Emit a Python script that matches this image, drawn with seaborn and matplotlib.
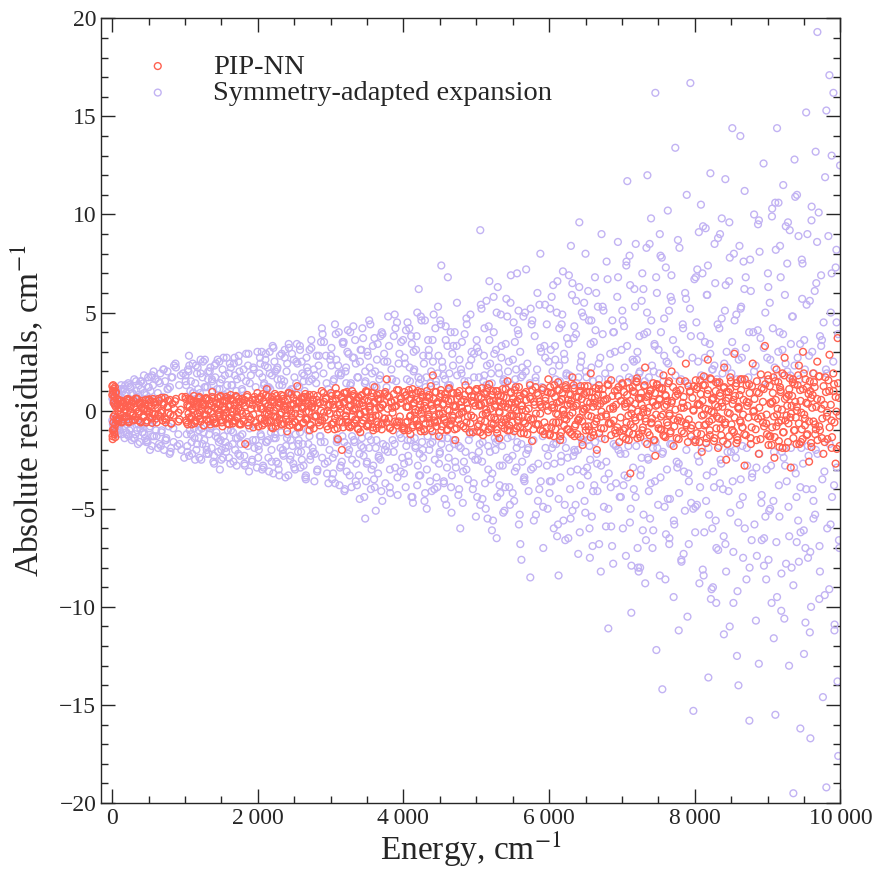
import pandas as pd
import seaborn as sns
import matplotlib.pyplot as plt
from matplotlib.ticker import MultipleLocator, FuncFormatter

# --- scattered / outlying points in 1000 cm-1 slices ---
# PIP-NN residuals (cm-1)
pip_e_0k = [3, 8, 14, 19, 25, 31, 37, 44, 52, 61, 72, 86, 104, 125, 148, 172, 199, 228, 259, 291, 324, 358, 393, 430, 468, 507, 548, 590, 633, 677, 722, 768, 815, 863, 912, 961]
pip_r_0k = [1.25, -1.45, 0.85, -0.95, 1.1, -1.2, 0.3, -0.7, 0.95, -0.35, 0.6, -0.55, 0.15, 0.5, -0.45, 0.05, 0.55, -0.6, 0.25, -0.15, 0.62, -0.5, 0.35, -0.3, 0.1, 0.58, -0.62, 0.4, -0.2, 0.65, -0.4, 0.2, -0.66, 0.48, -0.1, 0.7]
pip_e_1k = [1010, 1038, 1065, 1093, 1122, 1150, 1178, 1206, 1235, 1262, 1290, 1318, 1347, 1375, 1402, 1431, 1459, 1487, 1515, 1544, 1572, 1600, 1628, 1656, 1685, 1713, 1741, 1769, 1797, 1827, 1854, 1882, 1911, 1939, 1967, 1995]
pip_r_1k = [0.6, -0.7, 0.2, -0.3, 0.75, -0.55, 0.45, -0.1, 0.3, -0.75, 0.65, 0.05, -0.45, 0.95, -0.6, 0.35, -0.2, 0.7, -0.8, 0.15, 0.5, -0.4, 0.8, -0.65, 0.25, -0.05, 0.6, -0.7, 0.4, -1.7, 0.7, -0.3, 0.1, -0.85, 0.55, 0.9]
pip_e_2k = [2012, 2040, 2068, 2095, 2123, 2151, 2179, 2207, 2235, 2263, 2291, 2319, 2347, 2375, 2403, 2431, 2459, 2487, 2515, 2543, 2571, 2599, 2627, 2655, 2683, 2711, 2739, 2767, 2795, 2823, 2851, 2879, 2907, 2935, 2963, 2991]
pip_r_2k = [-0.8, 0.7, 0.1, -0.5, 1.1, -0.2, 0.45, -0.9, 0.85, -0.35, 0.25, -0.7, 0.6, 0.05, -1.05, 0.9, -0.15, 0.35, -0.6, 1.25, -0.85, 0.2, 0.7, -0.45, 0.55, -1.0, 0.15, 0.8, -0.3, 0.4, -0.75, 1.0, -0.1, 0.65, -0.95, 0.3]
pip_e_3k = [3015, 3043, 3071, 3099, 3127, 3155, 3183, 3211, 3239, 3267, 3295, 3323, 3351, 3379, 3407, 3435, 3463, 3491, 3519, 3547, 3575, 3603, 3631, 3659, 3687, 3715, 3743, 3771, 3799, 3827, 3855, 3883, 3911, 3939, 3967, 3995]
pip_r_3k = [0.75, -0.6, 1.15, -1.45, 0.3, -2.0, 0.9, -0.25, 0.55, -0.85, 1.0, 0.1, -0.5, 0.7, -1.1, 0.4, -0.05, 0.95, -0.7, 0.25, -0.35, 1.2, -0.9, 0.6, 0.15, -0.65, 0.85, 1.6, -0.4, 0.45, -1.0, 0.2, 1.05, -0.55, 0.65, -0.8]
pip_e_4k = [4012, 4040, 4068, 4096, 4124, 4152, 4180, 4208, 4236, 4264, 4292, 4320, 4348, 4376, 4404, 4432, 4460, 4488, 4516, 4544, 4572, 4600, 4628, 4656, 4684, 4712, 4740, 4768, 4796, 4824, 4852, 4880, 4908, 4936, 4964, 4992]
pip_r_4k = [-0.9, 0.8, 0.2, -1.2, 1.1, -0.4, 0.55, -0.75, 0.95, 0.05, -1.05, 0.7, -0.3, 1.25, 1.8, -0.6, 0.35, -1.3, 0.85, -0.15, 0.6, -0.95, 1.15, -0.5, 0.25, -1.5, 0.9, -0.2, 0.45, -0.8, 1.3, 0.1, -1.1, 0.75, -0.35, 1.0]
pip_e_5k = [5010, 5038, 5066, 5094, 5122, 5150, 5178, 5206, 5234, 5262, 5290, 5318, 5346, 5374, 5402, 5430, 5458, 5486, 5514, 5542, 5570, 5598, 5626, 5654, 5682, 5710, 5738, 5766, 5794, 5822, 5850, 5878, 5906, 5934, 5962, 5990]
pip_r_5k = [1.1, -0.7, 0.3, -1.25, 0.85, -0.1, 1.35, -0.9, 0.5, -0.45, 1.0, -1.4, 0.2, 0.7, -0.6, 1.5, -1.0, 0.4, -0.25, 1.2, -0.8, 0.6, 0.05, -1.15, 0.95, -0.35, 1.3, -1.55, 0.45, -0.7, 0.8, -0.15, 1.05, -1.2, 0.25, 1.6]
pip_e_6k = [6012, 6040, 6068, 6096, 6124, 6152, 6180, 6208, 6236, 6264, 6292, 6320, 6348, 6376, 6404, 6432, 6460, 6488, 6516, 6544, 6572, 6600, 6628, 6656, 6684, 6712, 6740, 6768, 6796, 6824, 6852, 6880, 6908, 6936, 6964, 6992]
pip_r_6k = [-1.2, 0.9, 0.15, -0.6, 1.45, -1.5, 0.55, -0.2, 1.1, -0.95, 0.35, 1.7, -1.3, 0.7, -0.45, 1.25, -1.75, 0.05, 0.95, -0.8, 1.9, -1.1, 0.4, -2.0, 1.3, -0.3, 0.8, -1.45, 0.6, -0.65, 1.55, 0.2, -1.0, 1.05, -1.6, 0.5]
pip_e_7k = [7010, 7038, 7066, 7094, 7115, 7150, 7178, 7206, 7234, 7262, 7290, 7318, 7346, 7374, 7402, 7430, 7458, 7486, 7514, 7542, 7570, 7598, 7626, 7654, 7682, 7710, 7738, 7766, 7794, 7822, 7850, 7878, 7906, 7934, 7962, 7990]
pip_r_7k = [1.35, -0.9, 0.4, -1.5, -3.2, 1.0, -0.35, 1.65, -1.2, 0.65, -0.1, 2.2, -1.7, 0.85, -0.6, 1.4, -2.3, 0.3, 1.15, -0.95, 1.8, -1.35, 0.5, -0.25, 2.0, -1.8, 0.75, -0.5, 1.5, -1.05, 0.15, 2.4, -1.6, 0.95, -0.75, 1.25]
pip_e_8k = [8012, 8040, 8068, 8096, 8124, 8152, 8180, 8208, 8236, 8264, 8292, 8320, 8348, 8376, 8404, 8432, 8460, 8488, 8516, 8544, 8572, 8600, 8628, 8656, 8684, 8712, 8740, 8768, 8796, 8824, 8852, 8880, 8908, 8936, 8964, 8992]
pip_r_8k = [-1.5, 1.2, 0.3, -2.1, 1.75, -0.7, 2.6, -1.25, 0.55, -0.1, 1.45, -1.9, 0.9, -0.45, 2.2, -2.5, 0.65, 1.1, -1.0, 2.9, -1.65, 0.2, 1.6, -0.85, -2.8, 1.3, 0.4, -1.4, 2.4, -0.3, 0.95, -2.2, 1.85, -0.6, 3.3, -1.2]
pip_e_9k = [9010, 9038, 9066, 9094, 9122, 9150, 9178, 9206, 9234, 9262, 9290, 9318, 9346, 9374, 9402, 9430, 9458, 9486, 9514, 9542, 9570, 9598, 9626, 9654, 9682, 9710, 9738, 9766, 9794, 9822, 9850, 9878, 9906, 9934, 9962, 9990]
pip_r_9k = [1.6, -1.3, 0.45, -2.4, 2.1, -0.6, 1.05, -1.9, 2.7, -0.25, 0.8, -2.9, 1.45, -1.0, 0.2, 2.3, -1.6, 3.0, -0.4, 1.2, -2.6, 0.65, 1.9, -1.2, 2.5, -0.8, 0.1, -2.2, 1.7, -1.45, 2.85, -0.5, 1.0, -2.7, 3.7, -1.8]

# Symmetry-adapted expansion residuals (cm-1)
sym_e_0k = [20, 45, 70, 95, 120, 150, 175, 200, 230, 255, 280, 310, 335, 360, 390, 415, 440, 470, 495, 520, 550, 575, 600, 630, 655, 680, 710, 735, 760, 790, 815, 840, 870, 895, 920, 950, 975, 990]
sym_r_0k = [0.7, -0.8, 0.9, -1.0, 1.1, -0.6, 0.8, -1.2, 1.3, -0.9, 0.5, -1.4, 1.0, -0.7, 1.5, -1.1, 0.9, -1.6, 1.2, -0.8, 1.8, -1.3, 0.6, -1.9, 1.4, -1.0, 2.1, -1.5, 1.1, -2.2, 1.7, -0.9, 2.4, -1.8, 1.3, -2.0, 1.9, -2.4]
sym_e_1k = [1010, 1035, 1060, 1085, 1110, 1140, 1165, 1190, 1215, 1240, 1270, 1295, 1320, 1345, 1370, 1400, 1425, 1450, 1475, 1500, 1530, 1555, 1580, 1605, 1630, 1660, 1685, 1710, 1735, 1760, 1790, 1815, 1840, 1865, 1890, 1920, 1945, 1970, 1995, 1055, 1480, 1880]
sym_r_1k = [1.5, -2.1, 2.3, -1.2, 0.9, -2.5, 1.9, -1.0, 2.6, -1.7, 1.2, -2.2, 2.0, -0.9, 1.6, -2.7, 2.4, -1.4, 1.1, -2.0, 2.7, -1.6, 1.3, -2.4, 2.2, -1.1, 1.8, -2.8, 2.5, -1.3, 1.0, -2.3, 2.9, -1.8, 1.4, -2.6, 2.1, -1.5, 3.0, 2.8, -3.0, -3.1]
sym_e_2k = [2010, 2035, 2060, 2085, 2110, 2140, 2165, 2190, 2215, 2240, 2270, 2295, 2320, 2345, 2370, 2400, 2425, 2450, 2475, 2500, 2530, 2555, 2580, 2605, 2630, 2660, 2685, 2710, 2735, 2760, 2790, 2815, 2840, 2865, 2890, 2920, 2945, 2970, 2995, 2150, 2580, 2880]
sym_r_2k = [-1.8, 2.4, -3.0, 1.3, 2.9, -1.5, 1.9, -2.6, 3.2, -1.2, 2.2, -3.3, 1.6, -2.0, 2.7, -1.4, 3.4, -2.3, 1.1, -2.9, 2.5, -1.7, 3.1, -2.5, 1.5, -3.5, 2.0, -1.3, 3.6, -2.1, 1.8, -3.1, 2.8, -1.6, 3.9, -2.7, 1.4, -3.7, 2.6, 1.2, -1.1, 4.2]
sym_e_3k = [3010, 3035, 3060, 3085, 3110, 3140, 3165, 3190, 3215, 3240, 3270, 3295, 3320, 3345, 3370, 3400, 3425, 3450, 3475, 3500, 3530, 3555, 3580, 3605, 3630, 3660, 3685, 3710, 3735, 3760, 3790, 3815, 3840, 3865, 3890, 3920, 3945, 3970, 3995, 3230, 3620, 3880, 3475]
sym_r_3k = [2.3, -3.2, 4.4, -1.6, 1.9, -2.8, 3.5, -4.1, 1.4, -2.2, 4.0, -1.3, 2.7, -3.6, 1.7, -4.5, 3.1, -1.9, 2.0, -2.6, 4.6, -1.5, 3.3, -3.9, 1.2, -2.4, 3.8, -4.6, 2.5, -1.8, 4.8, -3.0, 1.6, -2.1, 4.2, -4.3, 2.9, -1.4, 3.6, 3.0, -5.1, 4.9, -5.5]
sym_e_4k = [4010, 4035, 4060, 4085, 4110, 4140, 4165, 4190, 4215, 4240, 4270, 4295, 4320, 4345, 4370, 4400, 4425, 4450, 4475, 4500, 4530, 4555, 4580, 4605, 4630, 4660, 4685, 4710, 4735, 4760, 4790, 4815, 4840, 4865, 4890, 4920, 4945, 4970, 4995, 4520, 4780, 4210, 4610]
sym_r_4k = [-2.7, 4.1, -1.5, 2.2, -4.4, 3.0, -1.9, 5.0, -3.3, 1.6, -2.4, 4.6, -5.0, 2.8, -1.7, 3.6, -4.0, 1.3, 5.3, -2.1, 2.5, -3.7, 4.3, -1.4, 1.9, -5.2, 3.3, -2.6, 5.5, -1.8, 2.1, -4.7, 3.9, -3.0, 1.5, 4.9, -2.3, 2.9, -5.4, 7.4, -6.0, 6.2, 6.8]
sym_e_5k = [5010, 5035, 5055, 5085, 5110, 5140, 5165, 5190, 5215, 5240, 5270, 5295, 5320, 5345, 5370, 5400, 5425, 5450, 5475, 5500, 5530, 5555, 5580, 5605, 5630, 5660, 5685, 5710, 5742, 5760, 5790, 5815, 5840, 5865, 5890, 5920, 5945, 5970, 5995, 5280, 5560, 5880, 5620, 5180]
sym_r_5k = [3.2, -2.1, 9.2, -4.5, 1.8, 5.6, -3.0, 2.4, -6.1, 4.0, -1.6, 6.3, -3.8, 2.7, -5.2, 1.4, 4.8, -2.5, 6.9, -4.2, 3.5, -1.9, 5.1, -6.8, 2.2, -3.4, 7.2, -2.0, -8.5, 4.4, -5.6, 1.7, 6.0, -4.0, 3.0, -7.0, 5.4, -2.8, 2.5, -6.5, 7.0, 8.0, -7.6, 6.6]
sym_e_6k = [6010, 6035, 6060, 6085, 6110, 6140, 6165, 6190, 6215, 6240, 6270, 6295, 6320, 6345, 6370, 6400, 6425, 6450, 6475, 6500, 6530, 6555, 6580, 6605, 6630, 6660, 6685, 6710, 6735, 6760, 6790, 6815, 6840, 6865, 6890, 6920, 6945, 6970, 6995, 6415, 6130, 6720, 6880, 6560, 6300]
sym_r_6k = [-3.6, 5.8, -1.7, 2.6, -6.4, 4.2, -2.3, 7.1, -4.8, 1.9, 3.4, -5.5, 6.5, -2.0, 3.9, -7.3, 2.2, 5.0, -3.1, 8.0, -1.5, -6.0, 4.6, -4.1, 6.8, -2.7, 1.6, -8.2, 5.3, -3.5, 7.6, -5.0, 2.9, -6.9, 4.0, -1.8, 8.6, -4.4, 3.1, 9.6, -8.4, 9.0, -7.8, -7.5, 8.4]
sym_e_7k = [7010, 7035, 7060, 7074, 7110, 7129, 7165, 7190, 7215, 7240, 7270, 7295, 7320, 7345, 7370, 7400, 7425, 7450, 7459, 7473, 7530, 7555, 7580, 7605, 7630, 7660, 7685, 7710, 7733, 7760, 7790, 7815, 7840, 7865, 7890, 7920, 7940, 7981, 7995, 7250, 7520, 7780, 7350, 7650, 7900, 6813]
sym_r_7k = [4.6, -3.3, 7.4, 11.7, -5.7, -10.3, 2.5, 8.5, -7.0, 3.8, -2.4, 6.2, -8.8, 5.0, -4.1, 9.8, -1.9, 3.3, 16.2, -12.2, 7.9, -14.2, 2.8, -6.3, 10.2, -4.5, 5.6, -9.5, 13.4, -2.9, 8.3, -7.6, 4.2, -5.1, 11.0, -3.6, 16.7, -15.3, 6.7, -8.0, 9.0, -11.2, 12.0, -6.8, -10.5, -11.1]
sym_e_8k = [8010, 8035, 8060, 8085, 8110, 8140, 8165, 8187, 8215, 8240, 8270, 8295, 8320, 8345, 8370, 8400, 8425, 8450, 8475, 8516, 8530, 8555, 8580, 8626, 8630, 8660, 8685, 8710, 8750, 8760, 8790, 8815, 8840, 8865, 8890, 8920, 8945, 8970, 8995, 8250, 8600, 8880, 8420, 8700, 8950, 8150, 8480]
sym_r_8k = [-4.9, 7.2, -2.6, 10.5, -8.1, 3.5, 5.9, -13.6, 12.1, -6.0, 2.3, -9.8, 8.8, -3.7, 4.7, -11.4, 6.4, -2.1, 9.6, 14.4, -7.2, 3.0, -12.5, 14.0, 5.2, -4.4, 11.2, -8.6, -15.8, 7.7, -3.2, 10.0, -10.7, 4.1, 8.1, -6.6, 12.6, -5.4, 2.7, -9.0, -14.0, -12.9, 11.8, 6.8, -7.9, 9.3, -11.0]
sym_e_9k = [9010, 9035, 9060, 9085, 9107, 9130, 9165, 9190, 9215, 9240, 9270, 9295, 9320, 9354, 9370, 9400, 9425, 9450, 9475, 9500, 9530, 9555, 9588, 9605, 9630, 9660, 9684, 9710, 9735, 9760, 9790, 9807, 9807, 9849, 9865, 9904, 9920, 9945, 9970, 9995, 9250, 9580, 9880, 9450, 9720, 9960, 9150, 9520]
sym_r_9k = [6.3, -5.0, 9.9, -11.6, -15.5, 14.4, 4.0, -8.3, 11.5, -2.8, 7.5, -13.0, 3.4, -19.5, 12.8, -6.7, 8.9, -3.9, 5.7, -12.4, 15.2, -7.5, -16.7, 10.4, -4.6, 13.2, 19.3, -9.6, 6.9, -14.6, 11.9, 15.3, -19.2, 17.1, -5.8, 16.2, -10.9, 8.2, -17.6, 12.5, 9.4, -11.3, 13.0, -16.2, 3.8, -13.8, 10.6, -7.0]

# --- dense core: energies shared by both fits (cm-1) ---
core_e_0k = [6, 11, 17, 23, 29, 34, 40, 47, 58, 71, 85, 99, 116, 131, 147, 163, 180, 196, 213, 229, 246, 262, 279, 296, 312, 329, 345, 362, 379, 395, 412, 428, 445, 462, 478, 495, 511, 528, 545, 561, 578, 594, 611, 628, 644, 661, 677, 694, 711, 727, 744, 760, 777, 794, 810, 827, 843, 876, 909, 943]
core_pip_0k = [-1.3, 1.0, -0.6, 0.4, -1.1, 0.7, -0.2, 0.9, -0.5, 0.3, 0.0, -0.4, 0.5, -0.6, 0.2, -0.1, 0.45, -0.3, 0.6, -0.55, 0.15, 0.35, -0.25, 0.5, -0.45, 0.05, 0.6, -0.15, 0.3, -0.6, 0.4, -0.35, 0.1, 0.55, -0.5, 0.25, -0.05, 0.45, -0.4, 0.6, -0.2, 0.3, -0.6, 0.15, 0.5, -0.3, 0.0, -0.5, 0.4, 0.65, -0.45, 0.2, -0.1, 0.55, -0.65, 0.35, -0.25, 0.6, -0.55, 0.05]
core_sym_0k = [0.6, -0.7, 0.4, -0.5, 0.8, -0.9, 0.3, -0.6, 0.9, -1.0, 1.1, -0.8, 0.7, -1.2, 1.0, -0.4, 1.3, -1.1, 0.5, -1.3, 1.2, -0.6, 0.9, -1.4, 0.4, 1.5, -1.0, 0.8, -1.6, 1.1, -0.7, 1.4, -1.2, 0.6, -1.5, 1.7, -0.9, 1.0, -1.8, 1.3, -0.5, 1.6, -1.3, 0.9, -1.7, 1.9, -1.1, 0.7, -2.0, 1.5, -1.4, 2.0, -0.8, 1.2, -1.9, 1.7, -1.6, 2.2, -1.2, 1.8]
core_e_1k = [1008, 1024, 1041, 1057, 1074, 1091, 1107, 1124, 1141, 1157, 1174, 1190, 1207, 1224, 1240, 1257, 1274, 1290, 1307, 1323, 1340, 1357, 1373, 1390, 1406, 1423, 1440, 1456, 1473, 1490, 1506, 1523, 1539, 1556, 1573, 1589, 1606, 1623, 1639, 1656, 1672, 1689, 1706, 1722, 1739, 1755, 1772, 1789, 1805, 1822, 1839, 1855, 1872, 1888, 1905, 1922, 1938, 1955, 1971, 1988]
core_pip_1k = [0.7, -0.6, 0.2, -0.35, 0.55, -0.7, 0.1, 0.45, -0.5, 0.3, -0.15, 0.65, -0.4, 0.0, 0.5, -0.75, 0.25, -0.2, 0.6, -0.55, 0.35, -0.05, 0.7, -0.45, 0.15, -0.65, 0.4, 0.05, -0.3, 0.75, -0.6, 0.2, 0.5, -0.4, -0.1, 0.65, -0.7, 0.3, -0.25, 0.55, 0.1, -0.5, 0.7, -0.35, 0.45, -0.65, 0.0, 0.6, -0.55, 0.25, -0.15, 0.8, -0.75, 0.35, -0.45, 0.55, -0.2, 0.7, -0.6, 0.15]
core_sym_1k = [1.8, -1.2, 2.1, -2.3, 1.0, -1.6, 2.4, -0.9, 1.4, -2.0, 2.2, -1.4, 0.9, -2.5, 1.7, -1.1, 2.6, -1.8, 1.2, -2.2, 2.0, -0.8, 1.5, -2.6, 2.3, -1.3, 1.1, -2.1, 2.5, -1.5, 1.6, -2.4, 0.8, -1.9, 2.7, -1.0, 1.9, -2.7, 1.3, -1.7, 2.4, -2.0, 1.0, -1.4, 2.8, -2.3, 1.7, -1.2, 2.1, -2.8, 1.5, -1.6, 2.9, -0.9, 1.8, -2.5, 2.2, -1.9, 1.2, -2.9]
core_e_2k = [2006, 2021, 2039, 2054, 2072, 2088, 2105, 2121, 2138, 2155, 2171, 2188, 2204, 2221, 2238, 2254, 2271, 2287, 2304, 2321, 2337, 2354, 2370, 2387, 2404, 2420, 2437, 2453, 2470, 2487, 2503, 2520, 2536, 2553, 2570, 2586, 2603, 2619, 2636, 2653, 2669, 2686, 2702, 2719, 2736, 2752, 2769, 2785, 2802, 2819, 2835, 2852, 2868, 2885, 2902, 2918, 2935, 2951, 2968, 2985]
core_pip_2k = [-0.8, 0.6, 0.2, -0.4, 0.85, -0.65, 0.35, -0.1, 0.7, -0.5, 0.15, -0.85, 0.55, 0.0, -0.3, 0.75, -0.6, 0.4, -0.2, 0.8, -0.7, 0.25, 0.5, -0.45, 0.05, 0.9, -0.75, 0.3, -0.35, 0.65, -0.55, 0.1, 0.8, -0.8, 0.45, -0.15, 0.6, -0.65, 0.2, 0.85, -0.4, 0.7, -0.05, -0.7, 0.35, 0.55, -0.9, 0.15, -0.25, 0.75, -0.6, 0.4, 0.0, -0.5, 0.9, -0.35, 0.6, -0.8, 0.25, -0.15]
core_sym_2k = [-2.4, 1.9, -1.2, 3.0, -2.8, 1.4, 2.6, -1.6, 2.2, -3.1, 1.1, -2.0, 3.3, -1.4, 2.0, -2.6, 1.6, -3.0, 2.8, -1.1, 1.3, -2.3, 3.1, -1.8, 2.4, -3.3, 1.0, -1.5, 2.9, -2.7, 1.7, -1.2, 3.4, -2.1, 1.2, -2.9, 2.5, -1.7, 1.8, -3.4, 2.7, -1.0, 1.5, -2.5, 3.2, -1.9, 2.1, -2.2, 1.4, -3.0, 2.3, -1.3, 3.5, -2.4, 1.9, -1.6, 2.8, -3.2, 1.1, -2.0]
core_e_3k = [3004, 3022, 3037, 3055, 3071, 3088, 3104, 3121, 3138, 3154, 3171, 3187, 3204, 3221, 3237, 3254, 3270, 3287, 3304, 3320, 3337, 3353, 3370, 3387, 3403, 3420, 3436, 3453, 3470, 3486, 3503, 3519, 3536, 3553, 3569, 3586, 3602, 3619, 3636, 3652, 3669, 3685, 3702, 3719, 3735, 3752, 3768, 3785, 3802, 3818, 3835, 3851, 3868, 3885, 3901, 3918, 3934, 3951, 3968, 3984]
core_pip_3k = [0.9, -0.7, 0.3, -0.95, 0.6, -0.2, 0.8, -0.55, 0.1, 0.7, -0.85, 0.45, -0.3, 0.95, -0.6, 0.2, 0.55, -0.75, 0.0, 0.85, -0.45, 0.35, -0.9, 0.65, -0.15, 0.75, -0.65, 0.25, -0.35, 1.0, -0.8, 0.5, 0.05, -0.5, 0.9, -1.0, 0.4, -0.25, 0.8, -0.7, 0.15, 0.6, -0.95, 0.3, -0.4, 0.95, -0.6, 0.1, 0.7, -0.85, 0.45, -0.1, 0.85, -0.55, 0.25, -0.75, 1.05, -0.3, 0.6, -0.9]
core_sym_3k = [2.8, -3.5, 1.5, -2.2, 3.9, -1.4, 2.3, -3.8, 1.8, -2.6, 3.4, -1.6, 2.0, -3.1, 4.1, -2.0, 1.3, -3.9, 2.7, -1.5, 3.6, -2.7, 1.7, -3.3, 2.5, -1.8, 4.2, -2.3, 1.4, -3.6, 3.0, -1.3, 2.2, -4.0, 1.9, -2.8, 3.7, -1.9, 2.6, -3.2, 1.6, -2.5, 4.0, -1.7, 2.9, -3.7, 1.2, -2.1, 3.3, -4.2, 2.1, -1.5, 3.8, -2.9, 1.5, -3.4, 2.4, -1.2, 3.5, -2.4]
core_e_4k = [4007, 4023, 4040, 4056, 4073, 4090, 4106, 4123, 4139, 4156, 4173, 4189, 4206, 4222, 4239, 4256, 4272, 4289, 4305, 4322, 4339, 4355, 4372, 4388, 4405, 4422, 4438, 4455, 4471, 4488, 4505, 4521, 4538, 4554, 4571, 4588, 4604, 4621, 4637, 4654, 4671, 4687, 4704, 4720, 4737, 4754, 4770, 4787, 4803, 4820, 4837, 4853, 4870, 4886, 4903, 4920, 4936, 4953, 4969, 4986]
core_pip_4k = [-1.0, 0.75, 0.2, -0.55, 1.05, -0.3, 0.6, -0.85, 0.4, -0.1, 0.9, -0.7, 0.0, 0.5, -1.05, 0.8, -0.4, 0.25, -0.65, 1.0, -0.2, 0.65, -0.9, 0.35, 0.1, -0.5, 0.95, -0.8, 0.45, -0.15, 0.7, -1.0, 0.3, -0.35, 0.85, -0.6, 0.05, 1.1, -0.75, 0.55, -0.25, 0.9, -0.95, 0.2, 0.6, -0.45, 1.0, -0.7, 0.15, -0.05, 0.8, -0.9, 0.4, -0.3, 1.05, -0.65, 0.5, -1.1, 0.7, 0.25]
core_sym_4k = [-3.2, 2.4, -1.8, 4.5, -2.6, 1.5, 3.8, -4.4, 2.0, -1.4, 3.1, -3.8, 1.7, -2.2, 4.8, -1.6, 2.8, -4.6, 1.2, -3.0, 3.6, -2.0, 1.4, -4.1, 2.5, -1.3, 4.2, -3.4, 1.9, -2.7, 4.6, -1.7, 2.2, -3.6, 1.6, -4.8, 3.3, -2.4, 1.3, -3.9, 2.9, -1.5, 4.0, -2.9, 1.8, -4.3, 2.6, -1.9, 3.5, -3.1, 1.5, -2.1, 4.4, -3.5, 2.3, -1.2, 3.0, -4.0, 1.7, -2.5]
core_e_5k = [5005, 5022, 5038, 5055, 5072, 5088, 5105, 5121, 5138, 5155, 5171, 5188, 5204, 5221, 5238, 5254, 5271, 5287, 5304, 5321, 5337, 5354, 5370, 5387, 5404, 5420, 5437, 5453, 5470, 5487, 5503, 5520, 5536, 5553, 5570, 5586, 5603, 5619, 5636, 5653, 5669, 5686, 5702, 5719, 5736, 5752, 5769, 5785, 5802, 5819, 5835, 5852, 5868, 5885, 5902, 5918, 5935, 5951, 5968, 5985]
core_pip_5k = [1.1, -0.8, 0.3, -1.1, 0.65, -0.2, 0.9, -0.55, 0.05, 1.15, -0.95, 0.45, -0.35, 0.8, -0.7, 0.2, 1.0, -1.15, 0.5, -0.1, 0.75, -0.6, 0.35, -0.9, 1.1, -0.4, 0.15, -0.75, 0.95, -0.25, 0.6, -1.05, 0.4, 0.0, -0.5, 1.2, -0.85, 0.25, -0.3, 0.85, -0.65, 0.55, -1.2, 0.1, 0.7, -0.45, 1.05, -0.95, 0.3, -0.15, 0.9, -0.7, 0.45, -1.0, 0.2, 1.15, -0.6, 0.65, -0.85, 0.0]
core_sym_5k = [3.6, -2.5, 1.7, -4.8, 5.2, -1.6, 2.8, -3.7, 1.3, -5.5, 4.3, -2.1, 1.9, -3.2, 5.8, -1.4, 3.1, -4.4, 2.2, -2.8, 4.9, -1.8, 1.5, -5.1, 3.4, -2.4, 2.0, -3.9, 5.5, -1.3, 2.6, -4.6, 1.6, -2.9, 4.1, -5.8, 3.0, -1.7, 1.8, -3.5, 5.0, -2.2, 2.4, -4.1, 1.4, -3.0, 4.6, -1.5, 3.8, -5.3, 2.1, -2.7, 5.4, -3.6, 1.2, -4.9, 3.3, -1.9, 4.4, -2.3]
core_e_6k = [6006, 6023, 6039, 6056, 6072, 6089, 6106, 6122, 6139, 6155, 6172, 6189, 6205, 6222, 6238, 6255, 6272, 6288, 6305, 6321, 6338, 6355, 6371, 6388, 6404, 6421, 6438, 6454, 6471, 6487, 6504, 6521, 6537, 6554, 6570, 6587, 6604, 6620, 6637, 6653, 6670, 6687, 6703, 6720, 6736, 6753, 6770, 6786, 6803, 6819, 6836, 6853, 6869, 6886, 6902, 6919, 6936, 6952, 6969, 6985]
core_pip_6k = [-1.25, 0.9, 0.15, -0.6, 1.3, -0.95, 0.4, -0.2, 1.05, -1.3, 0.6, 0.0, -0.75, 1.2, -0.45, 0.3, 0.85, -1.1, 0.5, -0.1, 1.3, -0.8, 0.25, -1.2, 0.7, -0.35, 1.0, -0.55, 0.1, 1.25, -1.0, 0.45, -0.25, 0.95, -1.35, 0.65, 0.2, -0.7, 1.15, -0.4, 0.8, -1.15, 0.35, -0.05, 1.1, -0.9, 0.55, -0.3, 1.35, -0.65, 0.1, -1.25, 0.75, -0.5, 1.0, 0.3, -0.85, 1.2, -1.05, 0.5]
core_sym_6k = [-4.2, 3.1, -1.9, 6.4, -2.7, 1.6, 5.0, -5.8, 2.3, -3.4, 4.4, -1.5, 2.9, -6.6, 1.8, -2.4, 6.9, -4.0, 1.4, -5.1, 3.7, -2.1, 5.6, -3.0, 1.7, -6.2, 2.5, -1.6, 4.8, -4.6, 2.0, -2.9, 6.1, -1.8, 3.4, -5.4, 1.5, -3.8, 4.1, -2.2, 5.3, -6.8, 2.7, -1.4, 3.9, -4.9, 1.9, -2.6, 6.7, -3.2, 2.2, -5.9, 4.6, -1.7, 3.0, -3.7, 5.8, -2.0, 1.6, -4.4]
core_e_7k = [7005, 7022, 7038, 7055, 7071, 7088, 7105, 7121, 7138, 7154, 7171, 7188, 7204, 7221, 7237, 7254, 7271, 7287, 7304, 7320, 7337, 7354, 7370, 7387, 7403, 7420, 7437, 7453, 7470, 7486, 7503, 7520, 7536, 7553, 7569, 7586, 7603, 7619, 7636, 7652, 7669, 7686, 7702, 7719, 7735, 7752, 7769, 7785, 7802, 7818, 7835, 7852, 7868, 7885, 7901, 7918, 7935, 7951, 7968, 7984]
core_pip_7k = [1.4, -1.0, 0.35, -1.45, 0.8, -0.25, 1.15, -0.7, 0.1, -1.2, 0.95, -0.5, 1.45, -0.05, 0.6, -1.35, 0.3, -0.85, 1.25, -0.4, 0.7, -1.1, 0.15, 1.0, -0.65, 0.45, -1.5, 0.9, -0.2, 1.3, -0.9, 0.55, -0.3, 1.1, -1.25, 0.2, 0.75, -0.6, 1.4, -0.15, -1.05, 0.5, 1.2, -0.8, 0.05, -1.4, 0.85, -0.35, 1.05, -0.55, 0.4, -1.15, 1.5, -0.75, 0.25, -0.45, 1.0, -1.3, 0.65, 0.0]
core_sym_7k = [5.1, -3.8, 2.2, -7.4, 3.3, -1.8, 7.9, -5.0, 1.6, -2.9, 6.2, -4.4, 2.6, -8.0, 1.9, -3.3, 5.6, -6.1, 3.9, -1.6, 8.3, -2.4, 1.7, -5.5, 4.6, -7.0, 2.0, -3.6, 6.8, -1.9, 3.1, -8.4, 4.0, -2.2, 1.5, -4.9, 7.3, -3.0, 2.4, -6.5, 5.8, -1.7, 3.6, -5.8, 1.8, -2.6, 8.7, -4.2, 2.9, -7.7, 4.4, -3.1, 6.0, -2.0, 1.4, -6.8, 5.2, -4.7, 2.7, -1.5]
core_e_8k = [8006, 8023, 8039, 8056, 8073, 8089, 8106, 8122, 8139, 8156, 8172, 8189, 8205, 8222, 8239, 8255, 8272, 8288, 8305, 8322, 8338, 8355, 8371, 8388, 8405, 8421, 8438, 8454, 8471, 8488, 8504, 8521, 8537, 8554, 8571, 8587, 8604, 8620, 8637, 8654, 8670, 8687, 8703, 8720, 8737, 8753, 8770, 8786, 8803, 8820, 8836, 8853, 8869, 8886, 8903, 8919, 8936, 8952, 8969, 8986]
core_pip_8k = [-1.6, 1.1, 0.3, -0.75, 1.55, -1.2, 0.5, -0.2, 1.3, -1.65, 0.85, 0.05, -1.0, 1.6, -0.45, 0.65, -1.4, 1.0, -0.3, 0.2, 1.45, -0.9, 0.4, -1.55, 1.2, -0.6, 0.95, -0.1, -1.3, 1.7, -0.7, 0.35, -1.1, 0.75, 1.4, -1.5, 0.1, -0.5, 1.05, -0.85, 0.55, 1.6, -1.25, 0.25, -0.35, 0.9, -1.7, 1.25, -0.05, 0.6, -0.95, 1.5, -0.4, 0.15, -1.45, 1.15, 0.45, -0.8, 1.35, -0.2]
core_sym_8k = [-6.2, 4.5, -2.3, 9.1, -3.9, 1.8, 7.0, -8.4, 2.7, -4.6, 5.9, -1.9, 3.4, -9.6, 2.1, -3.1, 8.5, -5.6, 1.6, -7.1, 4.2, -2.5, 9.8, -4.0, 2.4, -6.8, 3.0, -1.7, 6.6, -5.2, 1.9, -3.6, 8.0, -2.0, 4.9, -9.2, 2.6, -4.8, 5.3, -1.8, 7.6, -6.0, 3.2, -2.8, 1.7, -8.0, 6.1, -3.4, 4.0, -5.8, 2.3, -7.4, 9.5, -2.2, 3.7, -4.3, 1.5, -6.5, 5.0, -3.0]
core_e_9k = [9005, 9022, 9038, 9055, 9072, 9088, 9105, 9121, 9138, 9155, 9171, 9188, 9204, 9221, 9238, 9254, 9271, 9287, 9304, 9321, 9337, 9354, 9370, 9387, 9404, 9420, 9437, 9453, 9470, 9487, 9503, 9520, 9536, 9553, 9570, 9586, 9603, 9619, 9636, 9653, 9669, 9686, 9702, 9719, 9736, 9752, 9769, 9785, 9802, 9819, 9835, 9852, 9868, 9885, 9902, 9918, 9935, 9951, 9968, 9985]
core_pip_9k = [1.8, -1.3, 0.4, -1.75, 0.9, -0.3, 1.5, -0.8, 0.1, -1.55, 1.2, -0.5, 1.9, -1.1, 0.6, -1.9, 0.25, -0.65, 1.65, -0.15, 0.75, -1.4, 1.35, -0.35, 0.0, 1.8, -1.7, 0.5, -0.95, 1.1, -0.2, 1.6, -1.25, 0.35, -0.55, 1.0, -1.85, 0.8, 1.45, -0.7, 0.2, -1.5, 1.75, -1.0, 0.55, -0.4, 1.25, -1.6, 0.95, -0.1, 1.55, -0.85, 0.3, -1.35, 1.9, -0.6, 0.7, -1.95, 1.4, -0.25]
core_sym_9k = [7.0, -5.1, 2.6, -9.8, 4.2, -2.1, 10.6, -6.7, 1.8, -3.8, 8.4, -10.2, 3.1, -2.4, 5.9, -7.8, 2.0, -4.9, 9.2, -1.9, 4.8, -8.9, 2.3, -3.2, 11.0, -5.6, 1.6, -6.2, 7.7, -2.7, 3.6, -10.8, 5.4, -1.8, 2.8, -7.2, 9.7, -4.0, 1.9, -5.3, 6.5, -2.2, 10.1, -8.2, 3.3, -3.5, 4.5, -9.4, 2.1, -6.0, 8.9, -1.7, 5.0, -4.4, 2.5, -11.2, 7.3, -2.9, 3.9, -7.0]

# --- second dense layer, also shared energies (cm-1) ---
mid_e_0k = [2, 9, 15, 21, 27, 32, 38, 43, 50, 64, 78, 92, 108, 123, 139, 155, 171, 188, 204, 221, 237, 254, 270, 287, 304, 320, 337, 354, 370, 387, 403, 420, 437, 453, 470, 487, 503, 520, 537, 553, 570, 603, 636, 669, 702, 735, 768, 801, 851, 926]
mid_pip_0k = [0.8, -1.0, 1.3, -0.3, 0.5, -0.9, 1.2, -1.35, 0.2, -0.45, 0.35, 0.55, -0.2, 0.1, -0.55, 0.4, -0.35, 0.05, 0.25, -0.45, 0.55, -0.1, 0.45, -0.5, 0.2, -0.3, 0.6, -0.05, 0.4, -0.55, 0.15, 0.5, -0.25, 0.35, -0.6, 0.0, 0.55, -0.35, 0.25, -0.15, 0.45, -0.4, 0.6, -0.1, 0.3, -0.6, 0.5, -0.2, 0.1, -0.45]
mid_sym_0k = [-0.5, 0.6, -0.9, 0.7, -0.4, 1.0, -0.8, 0.5, -1.1, 0.9, -1.2, 0.7, -1.0, 1.3, -0.6, 1.1, -1.4, 0.9, -0.7, 1.4, -1.0, 1.2, -1.5, 0.8, 1.6, -1.2, 0.7, -1.7, 1.3, -0.9, 1.5, -1.1, 1.8, -1.4, 0.8, -1.6, 1.2, -2.0, 1.7, -1.3, 2.0, -1.0, 1.5, -1.8, 2.1, -1.5, 1.1, -2.1, 2.3, -1.7]
mid_e_1k = [1016, 1032, 1049, 1066, 1082, 1099, 1116, 1132, 1149, 1166, 1182, 1199, 1216, 1232, 1249, 1266, 1282, 1299, 1316, 1332, 1349, 1366, 1382, 1399, 1416, 1432, 1449, 1466, 1482, 1499, 1516, 1532, 1549, 1566, 1582, 1599, 1616, 1632, 1649, 1666, 1682, 1699, 1716, 1732, 1749, 1766, 1782, 1816, 1866, 1932]
mid_pip_1k = [-0.5, 0.3, -0.15, 0.6, -0.4, 0.05, 0.5, -0.65, 0.2, 0.4, -0.3, 0.7, -0.55, 0.1, 0.35, -0.2, 0.6, -0.45, 0.0, 0.55, -0.7, 0.25, 0.45, -0.35, 0.15, -0.6, 0.65, -0.1, 0.3, -0.5, 0.5, -0.25, 0.05, 0.7, -0.65, 0.2, -0.4, 0.6, -0.05, -0.55, 0.35, 0.75, -0.3, 0.1, -0.7, 0.45, -0.15, 0.55, -0.6, 0.3]
mid_sym_1k = [1.3, -1.8, 2.0, -1.0, 1.5, -2.2, 0.9, -1.4, 2.3, -1.7, 1.1, -2.4, 1.9, -0.9, 2.5, -1.5, 1.2, -2.0, 1.6, -1.2, 2.2, -1.9, 1.0, -2.3, 1.7, -1.1, 2.6, -1.6, 1.4, -2.5, 2.1, -1.3, 1.8, -2.1, 0.9, -1.8, 2.4, -1.0, 1.3, -2.6, 2.7, -1.4, 1.6, -2.2, 2.0, -1.7, 1.1, -2.7, 2.3, -1.5]
mid_e_2k = [2014, 2030, 2047, 2063, 2080, 2097, 2113, 2130, 2146, 2163, 2180, 2196, 2213, 2229, 2246, 2263, 2279, 2296, 2312, 2329, 2346, 2362, 2379, 2395, 2412, 2429, 2445, 2462, 2478, 2495, 2512, 2528, 2545, 2561, 2578, 2595, 2611, 2628, 2644, 2661, 2678, 2694, 2711, 2727, 2744, 2777, 2810, 2860, 2910, 2960]
mid_pip_2k = [0.6, -0.4, 0.1, -0.75, 0.5, -0.2, 0.8, -0.6, 0.25, 0.0, -0.5, 0.7, -0.3, 0.45, -0.8, 0.15, 0.6, -0.45, 0.35, -0.1, 0.75, -0.65, 0.2, -0.25, 0.55, -0.55, 0.05, 0.85, -0.7, 0.3, -0.15, 0.5, -0.85, 0.4, -0.35, 0.65, 0.1, -0.6, 0.7, -0.05, -0.45, 0.35, 0.8, -0.75, 0.2, -0.3, 0.55, -0.5, 0.45, 0.0]
mid_sym_2k = [-2.0, 2.7, -1.3, 1.7, -2.9, 2.3, -1.6, 1.2, -2.4, 3.0, -1.1, 1.8, -3.2, 2.5, -1.4, 2.1, -2.7, 1.3, -1.9, 2.9, -2.2, 1.5, -3.4, 2.0, -1.2, 3.2, -2.5, 1.1, -1.8, 2.6, -3.0, 1.4, 2.4, -1.5, 3.3, -2.1, 1.9, -2.8, 1.0, -3.3, 2.2, -1.7, 3.1, -2.3, 1.6, -3.6, 2.8, -1.3, 3.5, -2.6]
mid_e_3k = [3012, 3029, 3046, 3062, 3079, 3096, 3112, 3129, 3146, 3162, 3179, 3196, 3212, 3229, 3246, 3262, 3279, 3296, 3312, 3329, 3346, 3362, 3379, 3396, 3412, 3429, 3446, 3462, 3479, 3496, 3512, 3529, 3546, 3562, 3579, 3596, 3612, 3629, 3646, 3662, 3679, 3696, 3712, 3746, 3779, 3812, 3846, 3879, 3912, 3962]
mid_pip_3k = [-0.7, 0.5, 0.15, -0.4, 0.85, -0.9, 0.3, -0.1, 0.65, -0.6, 0.4, 0.9, -0.45, 0.0, -0.8, 0.6, 0.25, -0.3, 0.75, -0.65, 0.1, 0.5, -0.95, 0.35, -0.2, 0.8, -0.5, 0.55, -0.05, -0.75, 0.95, 0.2, -0.35, 0.7, -0.85, 0.45, 0.05, -0.55, 0.6, -0.25, 0.85, -0.7, 0.3, -0.4, 0.75, -0.9, 0.15, 0.5, -0.6, 0.4]
mid_sym_3k = [3.2, -2.4, 1.6, -3.7, 2.6, -1.5, 4.0, -2.9, 1.9, -1.3, 3.5, -4.0, 2.2, -1.8, 2.9, -3.3, 1.4, -2.5, 4.3, -1.6, 2.4, -3.8, 1.7, -2.2, 3.1, -1.4, 3.7, -4.4, 1.5, -2.7, 2.8, -1.9, 4.4, -3.0, 1.3, -3.5, 2.0, -1.5, 3.4, -2.3, 1.8, -4.1, 3.9, -2.0, 2.5, -3.9, 1.6, -1.7, 4.5, -3.1]
mid_e_4k = [4015, 4031, 4048, 4065, 4081, 4098, 4115, 4131, 4148, 4165, 4181, 4198, 4215, 4231, 4248, 4265, 4281, 4298, 4315, 4331, 4348, 4365, 4381, 4398, 4415, 4431, 4448, 4465, 4481, 4498, 4515, 4531, 4548, 4565, 4581, 4598, 4615, 4631, 4648, 4665, 4681, 4698, 4731, 4765, 4798, 4831, 4865, 4898, 4931, 4965]
mid_pip_4k = [0.95, -0.6, 0.2, -1.0, 0.55, -0.25, 0.85, -0.75, 0.4, 0.05, -0.5, 1.0, -0.85, 0.3, -0.15, 0.7, -0.95, 0.45, 0.1, -0.4, 0.8, -0.65, 0.25, -1.05, 0.6, -0.3, 0.95, -0.55, 0.15, -0.2, 1.05, -0.8, 0.35, -0.45, 0.65, -1.0, 0.5, 0.0, -0.7, 0.9, -0.35, 0.2, -0.9, 0.75, -0.1, 0.55, -0.6, 1.0, -0.25, 0.4]
mid_sym_4k = [2.7, -3.9, 1.6, -2.3, 4.2, -1.5, 3.4, -4.7, 2.1, -1.8, 3.8, -2.8, 1.4, -3.3, 4.6, -2.0, 2.4, -4.2, 1.7, -1.3, 3.1, -3.6, 2.0, -1.6, 4.9, -2.5, 1.5, -3.9, 2.8, -2.2, 4.4, -1.4, 1.8, -4.5, 3.6, -2.9, 1.3, -1.9, 4.0, -3.3, 2.3, -1.7, 3.3, -4.0, 1.9, -2.6, 4.7, -1.5, 2.6, -3.7]
mid_e_5k = [5013, 5030, 5047, 5063, 5080, 5097, 5113, 5130, 5147, 5163, 5180, 5197, 5213, 5230, 5247, 5263, 5280, 5297, 5313, 5330, 5347, 5363, 5380, 5397, 5413, 5430, 5447, 5463, 5480, 5497, 5513, 5530, 5547, 5563, 5580, 5597, 5613, 5630, 5647, 5663, 5680, 5713, 5747, 5780, 5813, 5847, 5880, 5913, 5947, 5980]
mid_pip_5k = [-1.05, 0.7, 0.25, -0.5, 1.15, -0.85, 0.4, -0.15, 0.95, -1.1, 0.55, 0.1, -0.65, 1.0, -0.35, 0.3, -0.95, 0.8, -0.05, 0.45, -0.75, 1.1, -0.45, 0.2, 0.65, -1.0, 0.35, -0.25, 0.9, -0.6, 0.15, 1.05, -0.9, 0.5, -0.3, 0.75, -1.15, 0.25, -0.55, 0.85, 0.0, -0.8, 0.6, -0.4, 1.2, -0.7, 0.3, -1.05, 0.5, 0.95]
mid_sym_5k = [-4.4, 3.0, -1.7, 5.4, -2.6, 1.5, 4.2, -5.0, 2.3, -1.8, 3.6, -3.5, 1.4, -5.6, 2.9, -2.0, 5.0, -1.5, 1.9, -4.2, 3.3, -2.8, 1.6, -3.9, 5.7, -1.4, 2.5, -4.8, 1.3, -2.3, 4.5, -3.1, 2.1, -1.6, 3.9, -5.3, 1.7, -2.6, 4.8, -3.6, 2.0, -1.9, 5.2, -2.9, 1.5, -4.6, 3.2, -1.3, 2.7, -5.0]
mid_e_6k = [6014, 6031, 6047, 6064, 6081, 6097, 6114, 6131, 6147, 6164, 6181, 6197, 6214, 6231, 6247, 6264, 6281, 6297, 6314, 6331, 6347, 6364, 6381, 6397, 6414, 6431, 6447, 6464, 6481, 6497, 6514, 6531, 6547, 6564, 6581, 6597, 6614, 6631, 6647, 6664, 6681, 6714, 6747, 6781, 6814, 6847, 6881, 6914, 6947, 6981]
mid_pip_6k = [1.2, -0.85, 0.3, -1.3, 0.7, -0.15, 1.05, -0.6, 0.45, -1.1, 0.9, 0.05, -0.4, 1.3, -0.95, 0.55, -0.25, 0.8, -1.2, 0.2, 1.15, -0.7, 0.35, -0.5, 1.0, -1.35, 0.6, -0.05, 0.85, -0.8, 0.15, 1.25, -1.0, 0.4, -0.3, 0.95, -1.25, 0.65, -0.55, 0.25, 1.1, -0.9, 0.5, -0.2, 1.3, -0.65, 0.1, -1.15, 0.75, -0.35]
mid_sym_6k = [5.2, -3.6, 2.0, -6.0, 3.3, -1.7, 6.6, -4.5, 1.5, -2.6, 4.9, -5.6, 2.6, -1.9, 3.7, -6.5, 1.8, -3.1, 5.9, -2.3, 4.3, -4.8, 1.4, -2.0, 6.3, -3.8, 2.8, -1.5, 5.5, -5.2, 1.7, -3.3, 4.6, -2.5, 2.2, -6.9, 3.5, -1.6, 6.0, -4.1, 2.4, -2.8, 5.1, -5.9, 1.6, -3.9, 4.0, -1.8, 6.8, -2.2]
mid_e_7k = [7013, 7030, 7047, 7063, 7080, 7097, 7113, 7130, 7147, 7163, 7180, 7197, 7213, 7230, 7247, 7263, 7280, 7297, 7313, 7330, 7347, 7363, 7380, 7397, 7413, 7430, 7447, 7463, 7480, 7497, 7513, 7530, 7547, 7563, 7580, 7597, 7613, 7630, 7647, 7663, 7680, 7713, 7747, 7780, 7813, 7847, 7880, 7913, 7947, 7980]
mid_pip_7k = [-1.35, 0.95, 0.2, -0.6, 1.45, -1.1, 0.5, -0.15, 1.2, -0.85, 0.35, 1.5, -1.4, 0.65, -0.3, 0.9, -1.0, 0.1, 1.3, -0.55, -0.05, 0.75, -1.25, 1.05, -0.4, 0.45, -1.5, 0.25, 1.35, -0.7, 0.6, -0.95, 1.15, -0.2, -1.3, 0.8, 0.3, -0.75, 1.5, -1.15, 0.4, -0.45, 1.0, -1.45, 0.15, 0.7, -0.65, 1.25, -0.9, 0.05]
mid_sym_7k = [-6.0, 4.3, -2.2, 7.6, -3.4, 1.7, 6.4, -7.9, 2.6, -4.0, 5.3, -1.8, 3.0, -8.2, 2.0, -3.0, 7.0, -5.3, 1.5, -6.6, 4.0, -2.5, 8.5, -3.7, 2.3, -6.1, 3.4, -1.6, 6.0, -4.8, 1.9, -3.4, 7.8, -2.1, 4.7, -8.6, 2.5, -4.5, 5.1, -1.7, 6.9, -5.6, 3.1, -2.7, 1.6, -7.3, 5.7, -3.2, 3.8, -5.0]
mid_e_8k = [8014, 8031, 8047, 8064, 8081, 8097, 8114, 8131, 8147, 8164, 8181, 8197, 8214, 8231, 8247, 8264, 8281, 8297, 8314, 8331, 8347, 8364, 8381, 8397, 8414, 8431, 8447, 8464, 8481, 8497, 8514, 8531, 8547, 8564, 8581, 8597, 8614, 8631, 8647, 8664, 8681, 8714, 8747, 8781, 8814, 8847, 8881, 8914, 8947, 8981]
mid_pip_8k = [1.55, -1.15, 0.35, -1.6, 0.85, -0.25, 1.3, -0.75, 0.1, -1.4, 1.05, -0.55, 1.65, -0.05, 0.6, -1.55, 0.3, -0.9, 1.4, -0.4, 0.75, -1.25, 0.2, 1.15, -0.7, 0.5, -1.7, 0.95, -0.15, 1.5, -1.0, 0.55, -0.35, 1.25, -1.35, 0.15, 0.8, -0.6, 1.6, -0.2, -1.2, 0.45, 1.35, -0.85, 0.0, -1.5, 0.9, -0.3, 1.1, -0.65]
mid_sym_8k = [6.8, -4.8, 2.5, -8.8, 3.8, -1.9, 9.4, -6.2, 1.7, -3.3, 7.4, -5.3, 2.9, -9.1, 2.1, -3.9, 6.5, -7.0, 4.4, -1.8, 9.0, -2.7, 1.9, -6.4, 5.1, -8.2, 2.2, -4.1, 7.8, -2.1, 3.5, -9.8, 4.6, -2.4, 1.6, -5.7, 8.4, -3.5, 2.7, -7.5, 6.2, -1.9, 4.0, -6.6, 2.0, -2.9, 9.7, -4.7, 3.2, -8.6]
mid_e_9k = [9013, 9030, 9047, 9063, 9080, 9097, 9113, 9130, 9147, 9163, 9180, 9197, 9213, 9230, 9247, 9263, 9280, 9297, 9313, 9330, 9347, 9363, 9380, 9397, 9413, 9430, 9447, 9463, 9480, 9497, 9513, 9530, 9547, 9563, 9580, 9597, 9613, 9630, 9647, 9663, 9680, 9713, 9747, 9780, 9813, 9847, 9880, 9913, 9947, 9980]
mid_pip_9k = [-1.75, 1.25, 0.35, -0.85, 1.7, -1.35, 0.55, -0.2, 1.45, -1.85, 0.95, 0.05, -1.1, 1.8, -0.5, 0.7, -1.6, 1.1, -0.35, 0.25, 1.6, -1.0, 0.45, -1.7, 1.3, -0.65, 1.05, -0.1, -1.45, 1.9, -0.75, 0.4, -1.2, 0.85, 1.5, -1.65, 0.15, -0.55, 1.2, -0.95, 0.6, 1.75, -1.4, 0.3, -0.3, 1.0, -1.9, 1.35, -0.05, 0.65]
mid_sym_9k = [-7.6, 5.5, -2.8, 10.3, -4.6, 2.2, 8.2, -9.5, 3.0, -5.4, 6.8, -2.1, 3.9, -10.6, 2.4, -3.6, 9.6, -6.4, 1.8, -8.0, 4.8, -2.9, 10.9, -4.4, 2.7, -7.7, 3.4, -1.9, 7.5, -6.1, 2.1, -4.0, 9.0, -2.3, 5.6, -10.0, 3.0, -5.5, 6.1, -2.0, 8.6, -6.9, 3.6, -3.1, 1.9, -9.1, 7.0, -3.8, 4.5, -6.6]

pip_color = '#ff6150'
sym_color = '#c2b3f3'


def build_frame(pairs):
    parts = [pd.DataFrame({'energy': e, 'residual': r}) for e, r in pairs]
    return pd.concat(parts, ignore_index=True)


pip = build_frame([(pip_e_0k, pip_r_0k), (pip_e_1k, pip_r_1k), (pip_e_2k, pip_r_2k),
                   (pip_e_3k, pip_r_3k), (pip_e_4k, pip_r_4k), (pip_e_5k, pip_r_5k),
                   (pip_e_6k, pip_r_6k), (pip_e_7k, pip_r_7k), (pip_e_8k, pip_r_8k),
                   (pip_e_9k, pip_r_9k),
                   (core_e_0k, core_pip_0k), (core_e_1k, core_pip_1k), (core_e_2k, core_pip_2k),
                   (core_e_3k, core_pip_3k), (core_e_4k, core_pip_4k), (core_e_5k, core_pip_5k),
                   (core_e_6k, core_pip_6k), (core_e_7k, core_pip_7k), (core_e_8k, core_pip_8k),
                   (core_e_9k, core_pip_9k),
                   (mid_e_0k, mid_pip_0k), (mid_e_1k, mid_pip_1k), (mid_e_2k, mid_pip_2k),
                   (mid_e_3k, mid_pip_3k), (mid_e_4k, mid_pip_4k), (mid_e_5k, mid_pip_5k),
                   (mid_e_6k, mid_pip_6k), (mid_e_7k, mid_pip_7k), (mid_e_8k, mid_pip_8k),
                   (mid_e_9k, mid_pip_9k)])
sym = build_frame([(sym_e_0k, sym_r_0k), (sym_e_1k, sym_r_1k), (sym_e_2k, sym_r_2k),
                   (sym_e_3k, sym_r_3k), (sym_e_4k, sym_r_4k), (sym_e_5k, sym_r_5k),
                   (sym_e_6k, sym_r_6k), (sym_e_7k, sym_r_7k), (sym_e_8k, sym_r_8k),
                   (sym_e_9k, sym_r_9k),
                   (core_e_0k, core_sym_0k), (core_e_1k, core_sym_1k), (core_e_2k, core_sym_2k),
                   (core_e_3k, core_sym_3k), (core_e_4k, core_sym_4k), (core_e_5k, core_sym_5k),
                   (core_e_6k, core_sym_6k), (core_e_7k, core_sym_7k), (core_e_8k, core_sym_8k),
                   (core_e_9k, core_sym_9k),
                   (mid_e_0k, mid_sym_0k), (mid_e_1k, mid_sym_1k), (mid_e_2k, mid_sym_2k),
                   (mid_e_3k, mid_sym_3k), (mid_e_4k, mid_sym_4k), (mid_e_5k, mid_sym_5k),
                   (mid_e_6k, mid_sym_6k), (mid_e_7k, mid_sym_7k), (mid_e_8k, mid_sym_8k),
                   (mid_e_9k, mid_sym_9k)])

sns.set_style("ticks")
plt.rcParams['font.family'] = ['Liberation Serif', 'DejaVu Serif']
plt.rcParams['mathtext.fontset'] = 'stix'

fig = plt.figure(figsize=(8.8, 8.71), dpi=100)
ax = fig.add_axes([0.115, 0.078, 0.84, 0.901])

sns.scatterplot(data=sym, x='energy', y='residual', ax=ax, marker='o', s=24,
                facecolor='none', edgecolor=sym_color, linewidth=1.0,
                label='Symmetry-adapted expansion')
sns.scatterplot(data=pip, x='energy', y='residual', ax=ax, marker='o', s=24,
                facecolor='none', edgecolor=pip_color, linewidth=1.0,
                label='PIP-NN')

ax.set_xlim(-150, 10000)
ax.set_ylim(-20, 20)
ax.xaxis.set_major_locator(MultipleLocator(2000))
ax.xaxis.set_minor_locator(MultipleLocator(500))
ax.yaxis.set_major_locator(MultipleLocator(5))
ax.yaxis.set_minor_locator(MultipleLocator(1))
ax.xaxis.set_major_formatter(FuncFormatter(lambda v, p: f"{int(v):,}".replace(',', '\u2009')))
ax.tick_params(which='both', direction='in', top=True, right=True, labelsize=17, width=1.0)
ax.tick_params(which='major', length=10)
ax.tick_params(which='minor', length=5)
for sp in ax.spines.values():
    sp.set_linewidth(1.0)

ax.set_xlabel('Energy, cm$^{-1}$', fontsize=24, labelpad=1)
ax.set_ylabel('Absolute residuals, cm$^{-1}$', fontsize=24, labelpad=10)

handles, labels = ax.get_legend_handles_labels()
ax.legend(handles[::-1], labels[::-1], loc='upper left', bbox_to_anchor=(0.038, 0.955),
          frameon=False, fontsize=20.5, handletextpad=0.95, borderaxespad=0, borderpad=0,
          labelspacing=0.02)

fig.savefig('out.png', dpi=100)
